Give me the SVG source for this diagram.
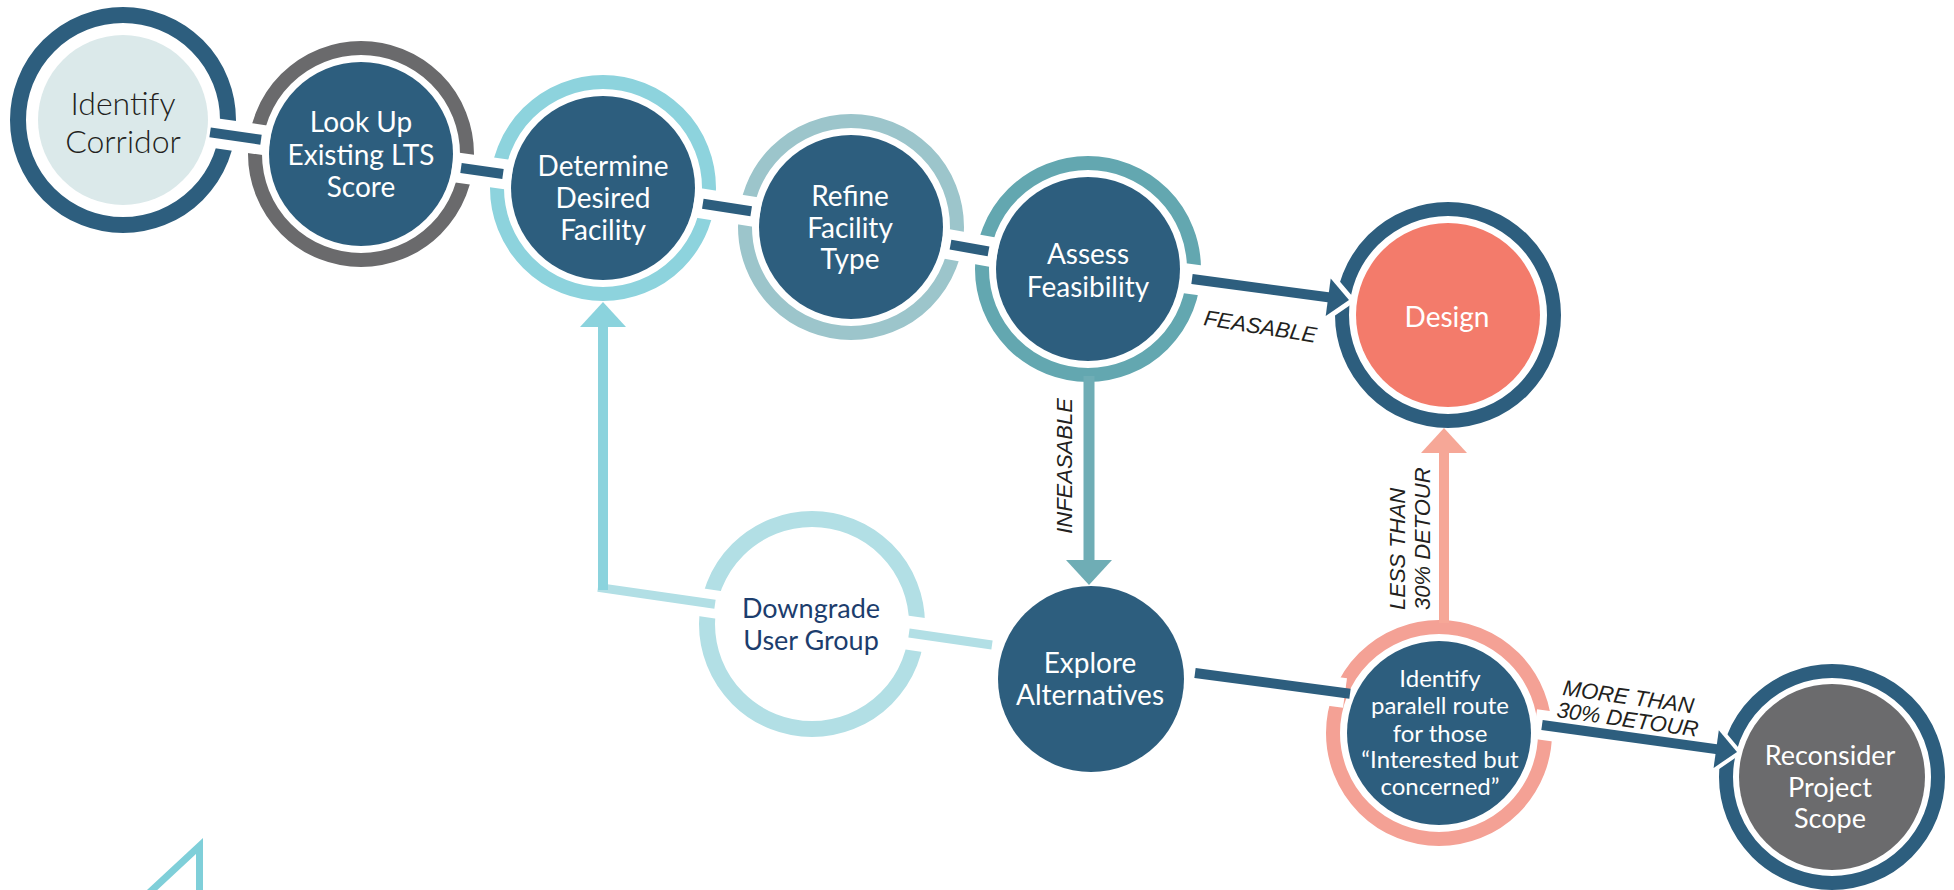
<svg xmlns="http://www.w3.org/2000/svg" width="1954" height="890" viewBox="0 0 1954 890">
<style>
  .ring{fill:none;stroke-width:14}
  .ring16{fill:none;stroke-width:16}
  .dk{fill:#2d5e7e}
  .nt{font-family:Lato,"Liberation Sans",sans-serif;font-size:28px;fill:#ffffff;text-anchor:middle}
  .lbl{font-family:"Liberation Sans",Arial,sans-serif;font-size:22px;font-style:italic;fill:#231f20}
  .halo{stroke:#ffffff;fill:none}
  .cdk{stroke:#2d5e7e;stroke-width:10;fill:none}
</style>
<rect width="1954" height="890" fill="#ffffff"/>

<g id="node-identify-corridor">
  <circle cx="123" cy="120" r="105" class="ring16" stroke="#2d5e7e"/>
  <circle cx="123" cy="120" r="85" fill="#dbe9ea"/>
  <text class="nt" style="fill:#231f20;font-size:32px;font-weight:300"><tspan x="123" y="115">Identify</tspan><tspan x="123" y="153">Corridor</tspan></text>
</g>
<g id="node-look-up">
  <circle cx="361" cy="154" r="106" class="ring" stroke="#6a6a6c"/>
  <circle cx="361" cy="154" r="92" class="dk"/>
  <text class="nt"><tspan x="361" y="132">Look Up</tspan><tspan x="361" y="165">Existing LTS</tspan><tspan x="361" y="197">Score</tspan></text>
</g>
<g id="node-determine">
  <circle cx="603" cy="188" r="106" class="ring" stroke="#8dd3dd"/>
  <circle cx="603" cy="188" r="92" class="dk"/>
  <text class="nt"><tspan x="603" y="176">Determine</tspan><tspan x="603" y="208">Desired</tspan><tspan x="603" y="240">Facility</tspan></text>
</g>
<g id="node-refine">
  <circle cx="851" cy="227" r="106" class="ring" stroke="#9cc5cb"/>
  <circle cx="851" cy="227" r="92" class="dk"/>
  <text class="nt"><tspan x="850" y="206">Refine</tspan><tspan x="850" y="238">Facility</tspan><tspan x="850" y="269">Type</tspan></text>
</g>
<g id="node-assess">
  <circle cx="1088" cy="269" r="106" class="ring" stroke="#63a7b0"/>
  <circle cx="1088" cy="269" r="92" class="dk"/>
  <text class="nt"><tspan x="1088" y="264">Assess</tspan><tspan x="1088" y="297">Feasibility</tspan></text>
</g>
<g id="node-design">
  <circle cx="1448" cy="315" r="106" class="ring" stroke="#2d5e7e"/>
  <circle cx="1448" cy="315" r="92" fill="#f37b6b"/>
  <text class="nt" x="1447" y="327">Design</text>
</g>
<g id="node-downgrade">
  <circle cx="812" cy="624" r="105" class="ring16" stroke="#b2dfe5"/>
  <text class="nt" style="fill:#1c3d6d;font-size:27px"><tspan x="811" y="618">Downgrade</tspan><tspan x="811" y="650">User Group</tspan></text>
</g>
<g id="node-explore">
  <circle cx="1091" cy="679" r="93" class="dk"/>
  <text class="nt"><tspan x="1090" y="673">Explore</tspan><tspan x="1090" y="705">Alternatives</tspan></text>
</g>
<g id="node-parallel">
  <circle cx="1439" cy="733" r="106" class="ring" stroke="#f4a195"/>
  <circle cx="1439" cy="733" r="92" class="dk"/>
  <text class="nt" style="font-size:24px"><tspan x="1440" y="687">Identify</tspan><tspan x="1440" y="714">paralell route</tspan><tspan x="1440" y="742">for those</tspan><tspan x="1440" y="768">“Interested but</tspan><tspan x="1440" y="795">concerned”</tspan></text>
</g>
<g id="node-reconsider">
  <circle cx="1832" cy="777" r="106" class="ring" stroke="#2d5e7e"/>
  <circle cx="1832" cy="777" r="93" fill="#6b6b6d"/>
  <text class="nt" style="font-size:27px"><tspan x="1830" y="765">Reconsider</tspan><tspan x="1830" y="797">Project</tspan><tspan x="1830" y="828">Scope</tspan></text>
</g>

<g id="connectors">
  <g class="halo" stroke-width="30">
    <line x1="207.2" y1="132" x2="269.9" y2="141"/>
    <line x1="452.1" y1="166.8" x2="511.9" y2="175.2"/>
    <line x1="693.9" y1="202.3" x2="760.1" y2="212.7"/>
    <line x1="941.6" y1="243.1" x2="997.4" y2="253"/>
    <line x1="1182" y1="277.9" x2="1328" y2="297.2"/>
    <line x1="1300" y1="687" x2="1345" y2="693"/>
    <line x1="1535" y1="724" x2="1716" y2="749"/>
    <line x1="903" y1="632" x2="935" y2="636.6" stroke-width="34"/>
    <line x1="690" y1="600.7" x2="722" y2="605.3" stroke-width="28"/>
  </g>
  <polygon class="halo" stroke-width="10" stroke-linejoin="round" points="1349,300 1330.7,278.4 1325.7,316"/>
  <polygon class="halo" stroke-width="8" stroke-linejoin="round" points="1737,752 1718.8,730.3 1713.6,767.9"/>

  <line class="cdk" x1="210.1" y1="132.4" x2="261" y2="139.7"/>
  <line class="cdk" x1="461" y1="168" x2="503" y2="174"/>
  <line class="cdk" x1="702.8" y1="203.7" x2="751.2" y2="211.3"/>
  <line class="cdk" x1="950.5" y1="244.6" x2="988.5" y2="251.4"/>

  <line class="cdk" stroke-width="11" x1="1192" y1="279" x2="1330" y2="297.5"/>
  <polygon fill="#2d5e7e" points="1349,300 1330.7,278.4 1325.7,316"/>

  <line x1="1089" y1="376" x2="1089" y2="562" stroke="#6fadb5" stroke-width="11"/>
  <polygon fill="#6fadb5" points="1066,560 1112,560 1089,585"/>

  <line x1="909" y1="633" x2="992" y2="645" stroke="#b2dfe5" stroke-width="9"/>
  <line x1="598" y1="587.4" x2="715" y2="604.3" stroke="#b2dfe5" stroke-width="9"/>
  <line x1="603" y1="590" x2="603" y2="325" stroke="#8bd3dd" stroke-width="10"/>
  <polygon fill="#8bd3dd" points="580,327 626,327 603,302"/>

  <line class="cdk" x1="1195" y1="673" x2="1350" y2="693.7"/>

  <line x1="1444" y1="623" x2="1444" y2="451" stroke="#f6a797" stroke-width="10"/>
  <polygon fill="#f6a797" points="1421,453 1467,453 1444,428"/>

  <line class="cdk" x1="1542" y1="725" x2="1718" y2="749.4"/>
  <polygon fill="#2d5e7e" points="1737,752 1718.8,730.3 1713.6,767.9"/>

  <text class="lbl" transform="translate(1203,325) rotate(9)">FEASABLE</text>
  <text class="lbl" text-anchor="middle" transform="translate(1072,466) rotate(-90)">INFEASABLE</text>
  <text class="lbl" transform="translate(1405,610) rotate(-90)">LESS THAN</text>
  <text class="lbl" transform="translate(1430,610) rotate(-90)">30% DETOUR</text>
  <g transform="translate(1562,695) rotate(8)">
    <text class="lbl" x="0" y="0">MORE THAN</text>
    <text class="lbl" x="-3" y="22.6">30% DETOUR</text>
  </g>
</g>

<polyline points="144.6,897 199.5,846 199.5,897" fill="none" stroke="#7fcfd9" stroke-width="7" stroke-miterlimit="10"/>
</svg>
